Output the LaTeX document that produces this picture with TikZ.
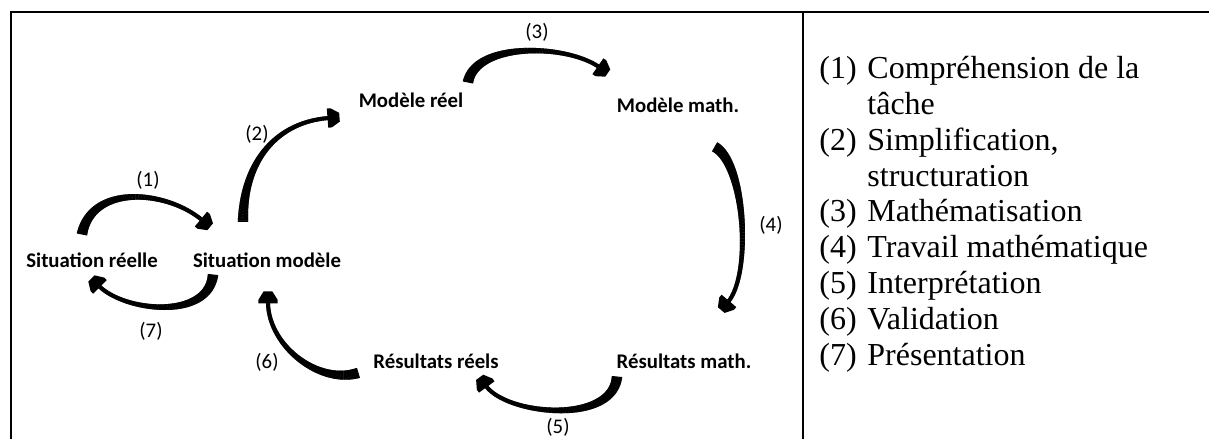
\documentclass[tikz,border=0pt]{standalone}
\usepackage{fontspec}
\setmainfont{Liberation Serif}
\newfontfamily\carlito{Carlito}
\usetikzlibrary{decorations.markings}
\tikzset{
  frame/.style={line width=0.7pt, black},
  lab/.style={font=\carlito\bfseries\fontsize{10.4pt}{12pt}\selectfont, inner sep=0pt, anchor=base},
  num/.style={font=\carlito\fontsize{10.4pt}{12pt}\selectfont, inner sep=0pt},
  leg/.style={font=\fontsize{16pt}{18pt}\selectfont, inner sep=0pt, anchor=base west},
  taper/.style={postaction={decorate}, decoration={markings,
     mark=between positions 0 and 1 step 0.3pt with {%
       \pgfmathsetmacro\mytp{\pgfkeysvalueof{/pgf/decoration/mark info/distance from start}/\pgfdecoratedpathlength}%
       \pgfmathsetmacro\myhw{1.0+1.6*(1-\mytp)^2}%
       \fill[black] (-0.25pt,-\myhw pt) rectangle (0.25pt,\myhw pt);},
     mark=at position 1 with {\fill[black] (-0.6pt,-4.8pt) -- (1.2pt,-4.8pt) -- (5.4pt,-2.2pt) -- (5.4pt,2.2pt) -- (1.2pt,4.8pt) -- (-0.6pt,4.8pt) -- cycle;}}}
}
\begin{document}
\begin{tikzpicture}[x=0.5pt,y=0.5pt]
\useasboundingbox (0,0) rectangle (1209,439);
\fill[white] (0,0) rectangle (1209,439);
% frame
\draw[frame] (10,427) -- (1209,427);
\draw[frame] (11,427) -- (11,0);
\draw[frame] (803,427) -- (803,0);
% main nodes
\node[lab] (sr) at (92,171) {Situation réelle};
\node[lab] (sm) at (267,171) {Situation modèle};
\node[lab] (mr) at (411,331) {Modèle réel};
\node[lab] (mm) at (678,326) {Modèle math.};
\node[lab] (rr) at (436,70) {Résultats réels};
\node[lab] (rm) at (684,70) {Résultats math.};
% step labels
\node[num] (n1) at (148,259) {(1)};
\node[num] (n2) at (257,305) {(2)};
\node[num] (n3) at (537,407) {(3)};
\node[num] (n4) at (771,214) {(4)};
\node[num] (n5) at (558,12) {(5)};
\node[num] (n6) at (267,77) {(6)};
\node[num] (n7) at (151,108) {(7)};
% arrows
\coordinate (t1) at (82,205); \coordinate (h1) at (202,219);
\path[taper] (t1) .. controls +(10,50) and +(-36,30) .. (h1);
\coordinate (t7) at (213,164); \coordinate (h7) at (99,153);
\path[taper] (t7) .. controls +(-5,-45) and +(26,-26) .. (h7);
\coordinate (t2) at (243,217); \coordinate (h2) at (329,321);
\path[taper] (t2) .. controls +(0,60) and +(-53,-4) .. (h2);
\coordinate (t6) at (358,66); \coordinate (h6) at (268,137);
\path[taper] (t6) .. controls +(-40,-12) and +(0,-43) .. (h6);
\coordinate (t3) at (468,357); \coordinate (h3) at (599,372);
\path[taper] (t3) .. controls +(8,40) and +(-33,23) .. (h3);
\coordinate (t4) at (715,292); \coordinate (h4) at (728,137);
\path[taper] (t4) .. controls (745,275) and (752,165) .. (h4);
\coordinate (t5) at (617,62); \coordinate (h5) at (486,53);
\path[taper] (t5) .. controls +(-5,-48) and +(21,-29) .. (h5);
% legend
\node[leg] (k1) at (819,360) {(1)};
\node[leg] (l1) at (867,360) {Compréhension de la};
\node[leg] (l2) at (867,324.25) {tâche};
\node[leg] (k2) at (819,288.5) {(2)};
\node[leg] (l3) at (867,288.5) {Simplification,};
\node[leg] (l4) at (867,252.75) {structuration};
\node[leg] (k3) at (819,217) {(3)};
\node[leg] (l5) at (867,217) {Mathématisation};
\node[leg] (k4) at (819,181.25) {(4)};
\node[leg] (l6) at (867,181.25) {Travail mathématique};
\node[leg] (k5) at (819,145.5) {(5)};
\node[leg] (l7) at (867,145.5) {Interprétation};
\node[leg] (k6) at (819,109.75) {(6)};
\node[leg] (l8) at (867,109.75) {Validation};
\node[leg] (k7) at (819,74) {(7)};
\node[leg] (l9) at (867,74) {Présentation};
\end{tikzpicture}
\end{document}
